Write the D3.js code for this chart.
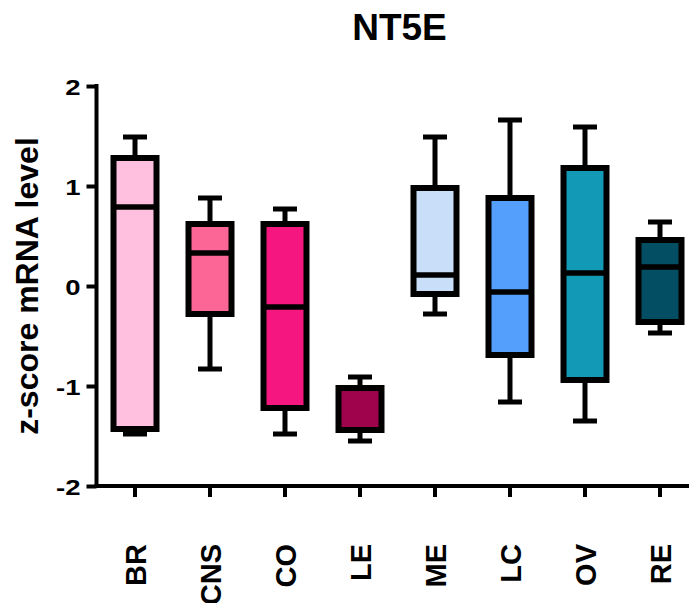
<!DOCTYPE html>
<html>
<head>
<meta charset="utf-8">
<script src="https://cdn.jsdelivr.net/npm/d3@7/dist/d3.min.js"></script>
<style>
  html, body { margin: 0; padding: 0; background: #fff; }
  svg { display: block; font-family: "Liberation Sans", Arial, sans-serif; }
</style>
</head>
<body>
<svg id="chart" width="689" height="603"></svg>
<script>
// Tissue groups and their box-plot statistics (z-score of NT5E mRNA)
const categories = ["BR", "CNS", "CO", "LE", "ME", "LC", "OV", "RE"];
const whiskerLow = [-1.48, -0.83, -1.48, -1.55, -0.28, -1.16, -1.35, -0.47];
const q1 =         [-1.43, -0.28, -1.22, -1.44, -0.08, -0.69, -0.94, -0.36];
const median =     [ 0.79,  0.33, -0.21, -1.02,  0.11, -0.06,  0.13,  0.19];
const q3 =         [ 1.28,  0.62,  0.62, -1.02,  0.98,  0.88,  1.18,  0.46];
const whiskerHigh =[ 1.49,  0.88,  0.77, -0.91,  1.49,  1.66,  1.59,  0.64];
const fills = ["#FFBFDF", "#FB6696", "#F5177F", "#9E034B", "#C9DEF9", "#559FFC", "#1199B5", "#044E63"];
const yTicks = [-2, -1, 0, 1, 2];
const yTickLabels = ["-2", "-1", "0", "1", "2"];

const rows = categories.map((c, i) => ({
  cat: c, lo: whiskerLow[i], q1: q1[i], med: median[i], q3: q3[i], hi: whiskerHigh[i], fill: fills[i]
}));

const svg = d3.select("#chart");

const x = d3.scaleBand().domain(categories).range([97.5, 697.5]).padding(0);
const y = d3.scaleLinear().domain([-2, 2]).range([486, 86]);
const cx = c => x(c) + x.bandwidth() / 2;

const boxW = 43, capW = 24;

// Title
svg.append("text")
  .attr("x", 399.5).attr("y", 40)
  .attr("text-anchor", "middle")
  .attr("font-size", 37).attr("font-weight", "bold")
  .text("NT5E");

// Y axis title
svg.append("text")
  .attr("transform", "translate(37.5," + ((y(2) + y(-2)) / 2) + ") rotate(-90)")
  .attr("text-anchor", "middle")
  .attr("font-size", 32).attr("font-weight", "bold")
  .text("z-score mRNA level");

// Y axis
const yAxis = svg.append("g")
  .attr("transform", "translate(96.5,0)")
  .call(d3.axisLeft(y).tickValues(yTicks).tickSize(10).tickSizeOuter(0)
    .tickFormat((d, i) => yTickLabels[i]));
yAxis.select(".domain").attr("stroke", "#000").attr("stroke-width", 4)
  .attr("d", "M0," + (y(2) - 2) + "V" + (y(-2) + 2));
yAxis.selectAll(".tick line").attr("stroke", "#000").attr("stroke-width", 4);
yAxis.selectAll(".tick text")
  .attr("font-family", "'Liberation Sans', Arial, sans-serif")
  .attr("font-size", 22).attr("font-weight", "bold").attr("fill", "#000")
  .attr("x", null).attr("dy", null)
  .attr("transform", "translate(-16,8) scale(1.25,1)")
  .attr("text-anchor", "end");

// X axis
const xAxis = svg.append("g")
  .attr("transform", "translate(0,486)")
  .call(d3.axisBottom(x).tickSize(11).tickSizeOuter(0));
xAxis.select(".domain").attr("stroke", "#000").attr("stroke-width", 4)
  .attr("d", "M94.5,0H689");
xAxis.selectAll(".tick line").attr("stroke", "#000").attr("stroke-width", 4);
xAxis.selectAll(".tick text").remove();

// Rotated category labels
svg.append("g").selectAll("text")
  .data(categories)
  .join("text")
  .attr("transform", d => "translate(" + (cx(d) + 10.5) + ",544) rotate(-90)")
  .attr("text-anchor", "end")
  .attr("font-size", 29).attr("font-weight", "bold")
  .text(d => d);

// Boxes
const g = svg.append("g").selectAll("g.box").data(rows).join("g").attr("class", "box");

// whisker stems
g.append("line")
  .attr("x1", d => cx(d.cat)).attr("x2", d => cx(d.cat))
  .attr("y1", d => y(d.hi)).attr("y2", d => y(d.q3))
  .attr("stroke", "#000").attr("stroke-width", 5);
g.append("line")
  .attr("x1", d => cx(d.cat)).attr("x2", d => cx(d.cat))
  .attr("y1", d => y(d.q1)).attr("y2", d => y(d.lo))
  .attr("stroke", "#000").attr("stroke-width", 5);
// caps
g.append("line")
  .attr("x1", d => cx(d.cat) - capW / 2).attr("x2", d => cx(d.cat) + capW / 2)
  .attr("y1", d => y(d.hi)).attr("y2", d => y(d.hi))
  .attr("stroke", "#000").attr("stroke-width", 5);
g.append("line")
  .attr("x1", d => cx(d.cat) - capW / 2).attr("x2", d => cx(d.cat) + capW / 2)
  .attr("y1", d => y(d.lo)).attr("y2", d => y(d.lo))
  .attr("stroke", "#000").attr("stroke-width", 5);
// box
g.append("rect")
  .attr("x", d => cx(d.cat) - boxW / 2).attr("width", boxW)
  .attr("y", d => y(d.q3)).attr("height", d => y(d.q1) - y(d.q3))
  .attr("fill", d => d.fill)
  .attr("stroke", "#000").attr("stroke-width", 6);
// median
g.append("line")
  .attr("x1", d => cx(d.cat) - boxW / 2).attr("x2", d => cx(d.cat) + boxW / 2)
  .attr("y1", d => y(d.med)).attr("y2", d => y(d.med))
  .attr("stroke", "#000").attr("stroke-width", 5.5);
</script>
</body>
</html>
